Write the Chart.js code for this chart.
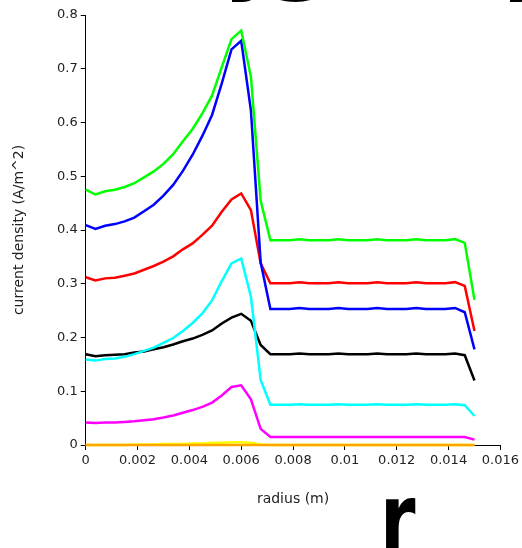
<!DOCTYPE html>
<html>
<head>
<meta charset="utf-8">
<script src="https://cdn.jsdelivr.net/npm/chart.js@4/dist/chart.umd.min.js"></script>
<style>
  html, body { margin: 0; padding: 0; background: #fff; }
  #wrap { width: 522px; height: 548px; }
</style>
</head>
<body>
<div id="wrap"><canvas id="chart" width="522" height="548"></canvas></div>
<script>
// radius samples (m)
const radius = [0, 0.000375, 0.00075, 0.001125, 0.0015, 0.001875, 0.00225, 0.002625, 0.003, 0.003375,
  0.00375, 0.004125, 0.0045, 0.004875, 0.00525, 0.005625, 0.006, 0.006375, 0.00675, 0.007125,
  0.0075, 0.007875, 0.00825, 0.008625, 0.009, 0.009375, 0.00975, 0.010125, 0.0105, 0.010875,
  0.01125, 0.011625, 0.012, 0.012375, 0.01275, 0.013125, 0.0135, 0.013875, 0.01425, 0.014625, 0.015];

const greenSeries = [0.475, 0.466, 0.472, 0.475, 0.480, 0.487, 0.498, 0.509, 0.523, 0.541,
  0.565, 0.588, 0.617, 0.650, 0.703, 0.755, 0.771, 0.685, 0.455, 0.381,
  0.381, 0.381, 0.383, 0.381, 0.381, 0.381, 0.383, 0.381, 0.381, 0.381,
  0.383, 0.381, 0.381, 0.381, 0.383, 0.381, 0.381, 0.381, 0.383, 0.376, 0.270];
const blueSeries = [0.409, 0.402, 0.408, 0.411, 0.416, 0.423, 0.435, 0.447, 0.464, 0.484,
  0.510, 0.540, 0.575, 0.614, 0.673, 0.736, 0.752, 0.622, 0.340, 0.253,
  0.253, 0.253, 0.255, 0.253, 0.253, 0.253, 0.255, 0.253, 0.253, 0.253,
  0.255, 0.253, 0.253, 0.253, 0.255, 0.253, 0.253, 0.253, 0.255, 0.247, 0.178];
const redSeries = [0.312, 0.306, 0.310, 0.311, 0.315, 0.319, 0.326, 0.333, 0.341, 0.351,
  0.364, 0.375, 0.391, 0.408, 0.434, 0.457, 0.468, 0.437, 0.338, 0.301,
  0.301, 0.301, 0.303, 0.301, 0.301, 0.301, 0.303, 0.301, 0.301, 0.301,
  0.303, 0.301, 0.301, 0.301, 0.303, 0.301, 0.301, 0.301, 0.303, 0.296, 0.212];
const cyanSeries = [0.159, 0.157, 0.160, 0.161, 0.164, 0.169, 0.175, 0.181, 0.190, 0.199,
  0.212, 0.227, 0.245, 0.269, 0.305, 0.338, 0.347, 0.276, 0.121, 0.075,
  0.075, 0.075, 0.076, 0.075, 0.075, 0.075, 0.076, 0.075, 0.075, 0.075,
  0.076, 0.075, 0.075, 0.075, 0.076, 0.075, 0.075, 0.075, 0.076, 0.074, 0.054];
const blackSeries = [0.169, 0.165, 0.167, 0.168, 0.169, 0.172, 0.174, 0.178, 0.182, 0.187,
  0.193, 0.198, 0.205, 0.213, 0.226, 0.237, 0.244, 0.231, 0.186, 0.169,
  0.169, 0.169, 0.170, 0.169, 0.169, 0.169, 0.170, 0.169, 0.169, 0.169,
  0.170, 0.169, 0.169, 0.169, 0.170, 0.169, 0.169, 0.169, 0.170, 0.167, 0.120];
const magentaSeries = [0.042, 0.041, 0.042, 0.042, 0.043, 0.044, 0.046, 0.048, 0.051, 0.055,
  0.060, 0.065, 0.071, 0.079, 0.092, 0.108, 0.111, 0.085, 0.030, 0.015,
  0.015, 0.015, 0.015, 0.015, 0.015, 0.015, 0.015, 0.015, 0.015, 0.015,
  0.015, 0.015, 0.015, 0.015, 0.015, 0.015, 0.015, 0.015, 0.015, 0.015, 0.010];
const yellowSeries = [0, 0, 0, 0, 0, 0.001, 0.001, 0.001, 0.002, 0.002,
  0.002, 0.003, 0.003, 0.004, 0.004, 0.005, 0.005, 0.004, 0.001, 0,
  0, 0, 0, 0, 0, 0, 0, 0, 0, 0,
  0, 0, 0, 0, 0, 0, 0, 0, 0, 0, 0];
const orangeSeries = [0, 0, 0, 0, 0, 0, 0, 0, 0, 0,
  0, 0, 0, 0, 0, 0, 0, 0, 0, 0,
  0, 0, 0, 0, 0, 0, 0, 0, 0, 0,
  0, 0, 0, 0, 0, 0, 0, 0, 0, 0, 0];

const xTickLabels = ['0', '0.002', '0.004', '0.006', '0.008', '0.01', '0.012', '0.014', '0.016'];
const yTickLabels = ['0', '0.1', '0.2', '0.3', '0.4', '0.5', '0.6', '0.7', '0.8'];

function toPoints(values) {
  return values.map((v, i) => ({ x: radius[i], y: v }));
}

function line(values, color) {
  return {
    data: toPoints(values),
    borderColor: color,
    backgroundColor: color,
    borderWidth: 2.5,
    pointRadius: 0,
    tension: 0,
    clip: false
  };
}

// big clipped lettering around the plot
const bigLetters = {
  id: 'bigLetters',
  afterDraw(chart) {
    const ctx = chart.ctx;
    ctx.save();
    ctx.fillStyle = '#000';
    ctx.font = 'bold 100px "DejaVu Sans"';
    ctx.textBaseline = 'alphabetic';
    ctx.fillText('y', 222, -20);
    ctx.fillText('g', 265, -20);
    ctx.fillText('y', 500, -20);
    // narrow r at the bottom
    ctx.translate(380, 554);
    ctx.scale(0.72, 1);
    ctx.fillText('r', 0, 0);
    ctx.restore();
  }
};

const tickFont = { family: 'DejaVu Sans', size: 13 };
const titleFont = { family: 'DejaVu Sans', size: 14 };

new Chart(document.getElementById('chart'), {
  type: 'line',
  data: {
    datasets: [
      line(greenSeries, '#00ff00'),
      line(blueSeries, '#0000ff'),
      line(redSeries, '#ff0000'),
      line(cyanSeries, '#00ffff'),
      line(blackSeries, '#000000'),
      line(magentaSeries, '#ff00ff'),
      line(orangeSeries, '#ffa500'),
      line(yellowSeries, '#ffff00')
    ]
  },
  options: {
    responsive: false,
    animation: false,
    layout: { padding: { left: 0, right: 19.3, top: 15, bottom: 0 } },
    plugins: {
      legend: { display: false },
      tooltip: { enabled: false }
    },
    scales: {
      x: {
        type: 'linear',
        min: 0,
        max: 0.016,
        afterFit: (s) => { s.height = 103; },
        ticks: {
          stepSize: 0.002,
          color: '#222',
          font: tickFont,
          padding: 3,
          maxRotation: 0,
          callback: (v, i) => xTickLabels[i]
        },
        grid: { drawOnChartArea: false, drawTicks: true, tickLength: 5, color: '#000' },
        border: { display: true, color: '#000', width: 1 },
        title: { display: true, text: 'radius (m)', color: '#222', font: titleFont, padding: { top: 0, bottom: 40.6 } }
      },
      y: {
        type: 'linear',
        min: 0,
        max: 0.8,
        afterFit: (s) => { s.width = 85.7; },
        ticks: {
          stepSize: 0.1,
          color: '#222',
          font: tickFont,
          padding: 3,
          callback: (v, i) => yTickLabels[i]
        },
        grid: { drawOnChartArea: false, drawTicks: true, tickLength: 5, color: '#000' },
        border: { display: true, color: '#000', width: 1 },
        title: { display: true, text: 'current density (A/m^2)', color: '#222', font: titleFont, padding: { top: 10.6, bottom: 0 } }
      }
    }
  },
  plugins: [bigLetters]
});
</script>
</body>
</html>
